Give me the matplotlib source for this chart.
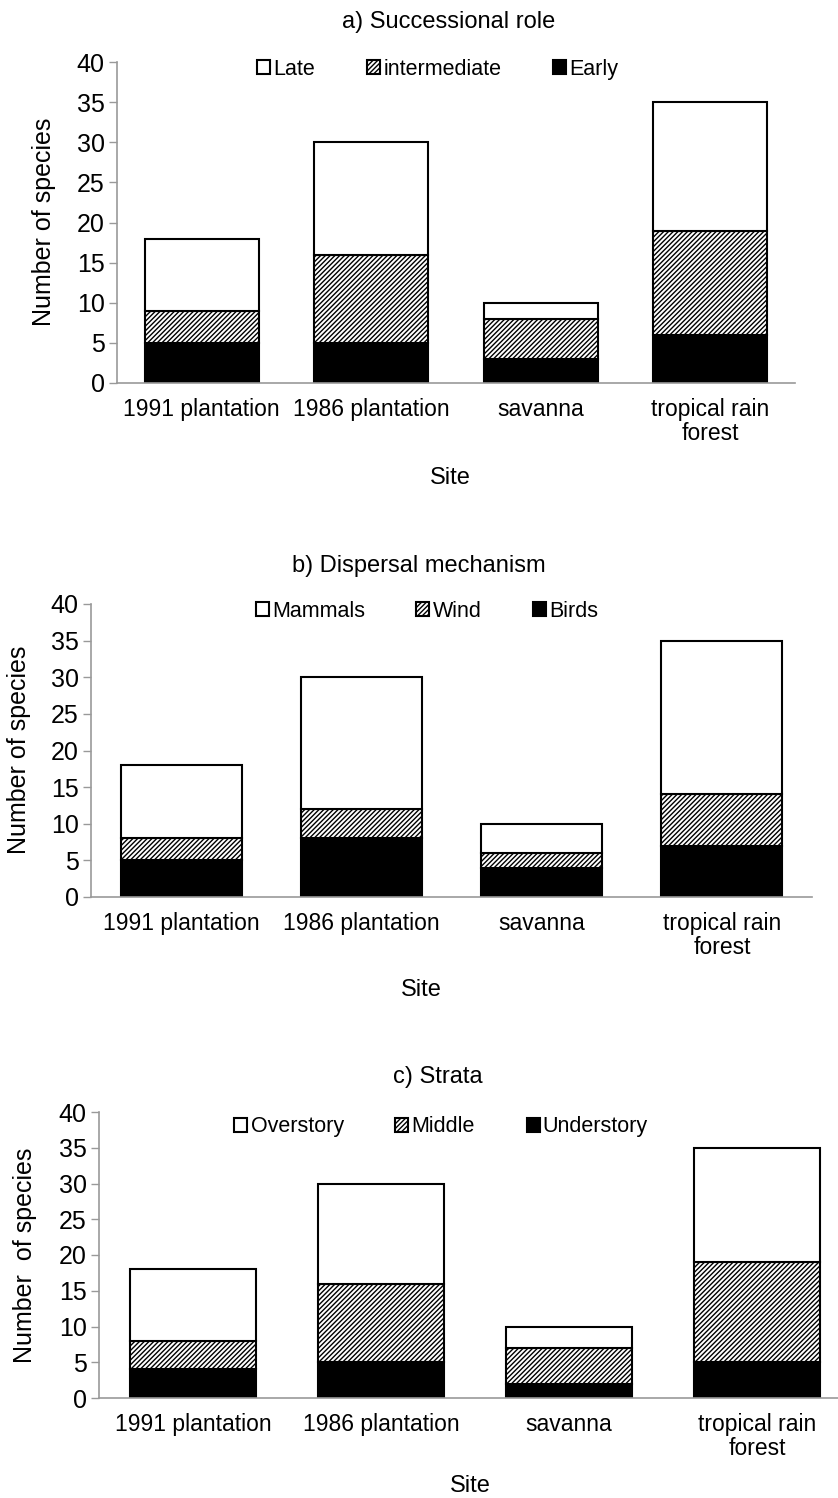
import numpy as np
import matplotlib
matplotlib.use("Agg")
import matplotlib.pyplot as plt

plt.rcParams['font.family'] = ['Liberation Sans', 'DejaVu Sans']
plt.rcParams['hatch.linewidth'] = 1.0
plt.rcParams['hatch.color'] = 'black'

sites = ['1991 plantation', '1986 plantation', 'savanna', 'tropical rain\nforest']
yticks = [0, 5, 10, 15, 20, 25, 30, 35, 40]

# a) successional role
early = [5, 5, 3, 6]
intermediate = [4, 11, 5, 13]
late = [9, 14, 2, 16]

# b) dispersal mechanism
birds = [5, 8, 4, 7]
wind = [3, 4, 2, 7]
mammals = [10, 18, 4, 21]

# c) strata
understory = [4, 5, 2, 5]
middle = [4, 11, 5, 14]
overstory = [10, 14, 3, 16]

W, H = 838, 1498
fig = plt.figure(figsize=(W / 100, H / 100), dpi=100)


def px_axes(left, right, top, bottom):
    return fig.add_axes([left / W, 1 - bottom / H, (right - left) / W, (bottom - top) / H])


def panel(ax, bottom_vals, mid_vals, top_vals, names, leg_xy, xmax=4.0):
    x = np.arange(len(sites)) + 0.5
    bw = 0.67
    b1 = ax.bar(x, bottom_vals, bw, color='black', edgecolor='black', linewidth=1.5)
    b2 = ax.bar(x, mid_vals, bw, bottom=bottom_vals, color='white',
                edgecolor='black', linewidth=1.5, hatch='///////')
    b3 = ax.bar(x, top_vals, bw, bottom=np.add(bottom_vals, mid_vals), color='white',
                edgecolor='black', linewidth=1.5)
    ax.set_xlim(0, xmax)
    ax.set_ylim(0, 40)
    ax.set_yticks(yticks)
    ax.set_xticks(x)
    ax.set_xticklabels(sites, fontsize=16.5, linespacing=1.05)
    ax.tick_params(axis='x', length=0, pad=11)
    ax.tick_params(axis='y', labelsize=18, length=6, width=1, color='#999999', pad=3)
    for s in ['top', 'right']:
        ax.spines[s].set_visible(False)
    for s in ['left', 'bottom']:
        ax.spines[s].set_color('#999999')
        ax.spines[s].set_linewidth(1.2)
    ax.legend([b3, b2, b1], names, loc='center', bbox_to_anchor=leg_xy, ncol=3,
              frameon=False, fontsize=15.5, handlelength=0.6, handleheight=0.6,
              handletextpad=0.15, columnspacing=2.4)


ax1 = px_axes(117, 795, 62, 383)
panel(ax1, early, intermediate, late, ['Late', 'intermediate', 'Early'], (0.473, 0.978))
fig.text(449 / W, 1 - 22 / H, 'a) Successional role', ha='center', va='center', fontsize=17)
fig.text(44 / W, 1 - 222 / H, 'Number of species', rotation=90, ha='center', va='center', fontsize=18)
fig.text(450 / W, 1 - 478 / H, 'Site', ha='center', va='center', fontsize=17)

ax2 = px_axes(91, 812, 604, 897)
panel(ax2, birds, wind, mammals, ['Mammals', 'Wind', 'Birds'], (0.466, 0.976))
fig.text(419 / W, 1 - 566 / H, 'b) Dispersal mechanism', ha='center', va='center', fontsize=17)
fig.text(19 / W, 1 - 750 / H, 'Number of species', rotation=90, ha='center', va='center', fontsize=18)
fig.text(421 / W, 1 - 990 / H, 'Site', ha='center', va='center', fontsize=17)

ax3 = px_axes(99, 851, 1112, 1398)
panel(ax3, understory, middle, overstory, ['Overstory', 'Middle', 'Understory'], (0.455, 0.948))
fig.text(438 / W, 1 - 1077 / H, 'c) Strata', ha='center', va='center', fontsize=17)
fig.text(25 / W, 1 - 1255 / H, 'Number  of species', rotation=90, ha='center', va='center', fontsize=18)
fig.text(470 / W, 1 - 1486 / H, 'Site', ha='center', va='center', fontsize=17)

fig.savefig('out.png', dpi=100)
